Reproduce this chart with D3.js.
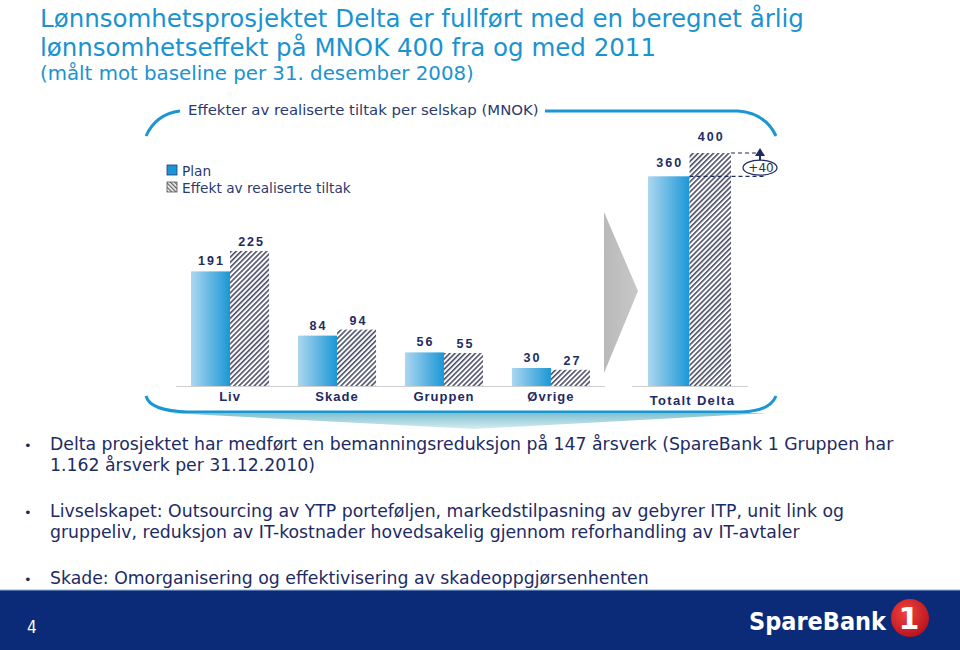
<!DOCTYPE html>
<html><head><meta charset="utf-8">
<script src="https://cdn.jsdelivr.net/npm/d3@7"></script>
<style>body{margin:0;background:#fff;} svg{display:block}</style>
</head><body>
<svg id="c" width="960" height="650"></svg>
<script>
// ---------- data ----------
const titleLines = ["Lønnsomhetsprosjektet Delta er fullført med en beregnet årlig",
                    "lønnsomhetseffekt på MNOK 400 fra og med 2011"];
const titleSub = "(målt mot baseline per 31. desember 2008)";
const chartTitle = "Effekter av realiserte tiltak per selskap (MNOK)";
const seriesNames = ["Plan", "Effekt av realiserte tiltak"];
const categories = ["Liv", "Skade", "Gruppen", "Øvrige"];
const planValues = [191, 84, 56, 30];
const effektValues = [225, 94, 55, 27];
const totalCategory = "Totalt Delta";
const totalPlan = 360;
const totalEffekt = 400;
const deltaLabel = "+40";
const bullets = [
  ["Delta prosjektet har medført en bemanningsreduksjon på 147 årsverk (SpareBank 1 Gruppen har",
   "1.162 årsverk per 31.12.2010)"],
  ["Livselskapet: Outsourcing av YTP porteføljen, markedstilpasning av gebyrer ITP, unit link og",
   "gruppeliv, reduksjon av IT-kostnader hovedsakelig gjennom reforhandling av IT-avtaler"],
  ["Skade: Omorganisering og effektivisering av skadeoppgjørsenhenten"]
];
const pageNumber = "4";
const logoText = "SpareBank";
const logoNumber = "1";

// ---------- setup ----------
const svg = d3.select("#c");
const navy = "#1d2b64";
const blue = "#1a96d4";
const defs = svg.append("defs");

const gPlan = defs.append("linearGradient").attr("id", "gPlan").attr("x1", 0).attr("x2", 1).attr("y1", 0).attr("y2", 0);
gPlan.append("stop").attr("offset", "0%").attr("stop-color", "#acd7f0");
gPlan.append("stop").attr("offset", "100%").attr("stop-color", "#1b97d5");

const hatch = defs.append("pattern").attr("id", "hatch").attr("patternUnits", "userSpaceOnUse")
  .attr("width", 3.6).attr("height", 3.6).attr("patternTransform", "rotate(45)");
hatch.append("rect").attr("width", 3.6).attr("height", 3.6).attr("fill", "#fff");
hatch.append("rect").attr("width", 1.6).attr("height", 3.6).attr("fill", "#4c4f68");

const hatch2 = defs.append("pattern").attr("id", "hatch2").attr("patternUnits", "userSpaceOnUse")
  .attr("width", 3).attr("height", 3).attr("patternTransform", "rotate(-45)");
hatch2.append("rect").attr("width", 3).attr("height", 3).attr("fill", "#fff");
hatch2.append("rect").attr("width", 1.4).attr("height", 3).attr("fill", "#666");

const gSw = defs.append("linearGradient").attr("id", "gSw").attr("x1", 0).attr("x2", 0).attr("y1", 0).attr("y2", 1);
gSw.append("stop").attr("offset", "0%").attr("stop-color", "#7fc0cf");
gSw.append("stop").attr("offset", "100%").attr("stop-color", "#d6edf2");

const gArrow = defs.append("linearGradient").attr("id", "gArrow").attr("x1", 0).attr("x2", 1).attr("y1", 0).attr("y2", 0);
gArrow.append("stop").attr("offset", "0%").attr("stop-color", "#b9b9b9");
gArrow.append("stop").attr("offset", "100%").attr("stop-color", "#c8c8c8");

const gLogo = defs.append("radialGradient").attr("id", "gLogo").attr("cx", "40%").attr("cy", "35%").attr("r", "70%");
gLogo.append("stop").attr("offset", "0%").attr("stop-color", "#f0443f");
gLogo.append("stop").attr("offset", "100%").attr("stop-color", "#b8111c");

// ---------- page title ----------
titleLines.forEach((t, i) => {
  svg.append("text").attr("x", 40).attr("y", 27 + i * 29).text(t)
    .attr("font-family", "DejaVu Sans").attr("font-size", 24.5).attr("fill", "#1a93d0");
});
svg.append("text").attr("x", 40).attr("y", 80).text(titleSub)
  .attr("font-family", "DejaVu Sans").attr("font-size", 19.8).attr("fill", "#1a93d0");

// ---------- frame ----------
const frame = svg.append("g").attr("fill", "none").attr("stroke", blue).attr("stroke-width", 3);
frame.append("path").attr("d", "M180,111 Q156,114 146,136");
frame.append("path").attr("d", "M545,111 L738,111 Q765,113 776,136");
svg.append("path").attr("d", "M170,413 L768,413 L474,429 Z").attr("fill", "url(#gSw)");
frame.append("path").attr("d", "M146,396 Q150,411 188,412 L742,412 Q770,411 776,396");

svg.append("text").attr("x", 188).attr("y", 115).text(chartTitle)
  .attr("font-family", "DejaVu Sans").attr("font-size", 14.9).attr("fill", "#2a3a70");

// legend
const leg = svg.append("g");
leg.append("rect").attr("x", 167).attr("y", 165).attr("width", 10).attr("height", 10)
  .attr("fill", blue).attr("stroke", "#2a3a70").attr("stroke-width", 0.8);
leg.append("rect").attr("x", 167).attr("y", 182).attr("width", 10).attr("height", 10)
  .attr("fill", "url(#hatch2)").attr("stroke", "#555").attr("stroke-width", 0.8);
seriesNames.forEach((s, i) => {
  leg.append("text").attr("x", 182).attr("y", 176 + i * 17).text(s)
    .attr("font-family", "DejaVu Sans").attr("font-size", 13.7).attr("fill", "#2a3a70");
});

// ---------- left chart ----------
const baseY = 386;
const y = d3.scaleLinear().domain([0, 250]).range([baseY, 236]);
const x0 = d3.scaleBand().domain(categories).range([191, 590]).paddingInner(0.27).paddingOuter(0);
const x1 = d3.scaleBand().domain(["plan", "effekt"]).range([0, x0.bandwidth()]);

svg.append("line").attr("x1", 176).attr("x2", 605).attr("y1", baseY + 0.5).attr("y2", baseY + 0.5)
  .attr("stroke", "#cfcfcf").attr("stroke-width", 1.2);

const data = categories.map((c, i) => ({ c, plan: planValues[i], effekt: effektValues[i] }));
const groups = svg.append("g").selectAll("g").data(data).join("g")
  .attr("transform", d => `translate(${x0(d.c)},0)`);
groups.append("rect").attr("x", x1("plan")).attr("width", x1.bandwidth())
  .attr("y", d => y(d.plan)).attr("height", d => baseY - y(d.plan)).attr("fill", "url(#gPlan)");
groups.append("rect").attr("x", x1("effekt")).attr("width", x1.bandwidth())
  .attr("y", d => y(d.effekt)).attr("height", d => baseY - y(d.effekt)).attr("fill", "url(#hatch)");

const lblStyle = sel => sel.attr("font-family", "Liberation Sans").attr("font-weight", "bold")
  .attr("font-size", 12.5).attr("letter-spacing", 2).attr("fill", navy).attr("text-anchor", "middle");
groups.append("text").attr("x", x1("plan") + x1.bandwidth() / 2 + 1).attr("y", d => y(d.plan) - 6)
  .text(d => d.plan).call(lblStyle);
groups.append("text").attr("x", x1("effekt") + x1.bandwidth() / 2 + 2).attr("y", d => y(d.effekt) - 5)
  .text(d => d.effekt).call(lblStyle);
groups.append("text").attr("x", x0.bandwidth() / 2).attr("y", 401).text(d => d.c)
  .attr("font-family", "Liberation Sans").attr("font-weight", "bold").attr("font-size", 13)
  .attr("letter-spacing", 1).attr("fill", navy).attr("text-anchor", "middle");

// gray arrow
svg.append("path").attr("d", "M604,212 L638,291 L604,373 Z").attr("fill", "url(#gArrow)");

// ---------- total chart ----------
const yT = d3.scaleLinear().domain([0, 400]).range([baseY, 153]);
const xT = d3.scaleBand().domain(["plan", "effekt"]).range([648, 731]);
svg.append("line").attr("x1", 632).attr("x2", 748).attr("y1", baseY + 0.5).attr("y2", baseY + 0.5)
  .attr("stroke", "#cfcfcf").attr("stroke-width", 1.2);
svg.append("rect").attr("x", xT("plan")).attr("width", xT.bandwidth()).attr("y", yT(totalPlan))
  .attr("height", baseY - yT(totalPlan)).attr("fill", "url(#gPlan)");
svg.append("rect").attr("x", xT("effekt")).attr("width", xT.bandwidth()).attr("y", yT(totalEffekt))
  .attr("height", baseY - yT(totalEffekt)).attr("fill", "url(#hatch)");
svg.append("text").attr("x", xT("plan") + xT.bandwidth() / 2 + 1).attr("y", yT(totalPlan) - 9)
  .text(totalPlan).call(lblStyle);
svg.append("text").attr("x", xT("effekt") + xT.bandwidth() / 2 + 1).attr("y", yT(totalEffekt) - 12)
  .text(totalEffekt).call(lblStyle);
svg.append("text").attr("x", (xT.range()[0] + xT.range()[1]) / 2 + 3).attr("y", 405).text(totalCategory)
  .attr("font-family", "Liberation Sans").attr("font-weight", "bold").attr("font-size", 13)
  .attr("letter-spacing", 1.3).attr("fill", navy).attr("text-anchor", "middle");

// delta annotation
const dash = svg.append("g").attr("stroke", navy).attr("stroke-width", 1.2).attr("stroke-dasharray", "4,3");
dash.append("line").attr("x1", xT("effekt")).attr("x2", 764).attr("y1", yT(totalPlan)).attr("y2", yT(totalPlan));
dash.append("line").attr("x1", xT.range()[1]).attr("x2", 760).attr("y1", yT(totalEffekt)).attr("y2", yT(totalEffekt));
const ey = (yT(totalPlan) + yT(totalEffekt)) / 2 + 3;
svg.append("line").attr("x1", 760).attr("x2", 760).attr("y1", ey - 7).attr("y2", yT(totalEffekt) + 2)
  .attr("stroke", navy).attr("stroke-width", 2);
svg.append("path").attr("d", `M755,${yT(totalEffekt) + 3} L760,${yT(totalEffekt) - 5} L765,${yT(totalEffekt) + 3} Z`).attr("fill", navy);
svg.append("ellipse").attr("cx", 760).attr("cy", ey).attr("rx", 17).attr("ry", 7.5)
  .attr("fill", "#fff").attr("stroke", navy).attr("stroke-width", 1.2);
svg.append("text").attr("x", 761).attr("y", ey + 4.5).text(deltaLabel).attr("text-anchor", "middle")
  .attr("font-family", "DejaVu Sans").attr("font-size", 12).attr("fill", "#333");

// ---------- bullets ----------
const bstart = [450, 517, 584];
bullets.forEach((lines, i) => {
  svg.append("text").attr("x", 24).attr("y", bstart[i]).text("•")
    .attr("font-family", "DejaVu Sans").attr("font-size", 13).attr("fill", navy);
  lines.forEach((l, j) => {
    svg.append("text").attr("x", 50).attr("y", bstart[i] + j * 21).text(l)
      .attr("font-family", "DejaVu Sans").attr("font-size", 17.3).attr("fill", navy);
  });
});

// ---------- footer ----------
svg.append("rect").attr("x", 0).attr("y", 590).attr("width", 960).attr("height", 60).attr("fill", "#0b2a78");
svg.append("line").attr("x1", 0).attr("x2", 960).attr("y1", 590).attr("y2", 590).attr("stroke", "#8fb3d9").attr("stroke-width", 1);
svg.append("text").attr("x", 27).attr("y", 633).text(pageNumber)
  .attr("font-family", "DejaVu Sans Condensed").attr("font-size", 17).attr("fill", "#fff");
svg.append("text").attr("x", 749).attr("y", 630).text(logoText).attr("textLength", 137)
  .attr("font-family", "DejaVu Sans Condensed").attr("font-weight", "bold").attr("font-size", 25).attr("fill", "#fff");
svg.append("circle").attr("cx", 910).attr("cy", 618).attr("r", 19).attr("fill", "url(#gLogo)");
svg.append("text").attr("x", 909).attr("y", 629).text(logoNumber).attr("text-anchor", "middle")
  .attr("font-family", "DejaVu Sans").attr("font-weight", "bold").attr("font-size", 30).attr("fill", "#fff");
</script>
</body></html>
